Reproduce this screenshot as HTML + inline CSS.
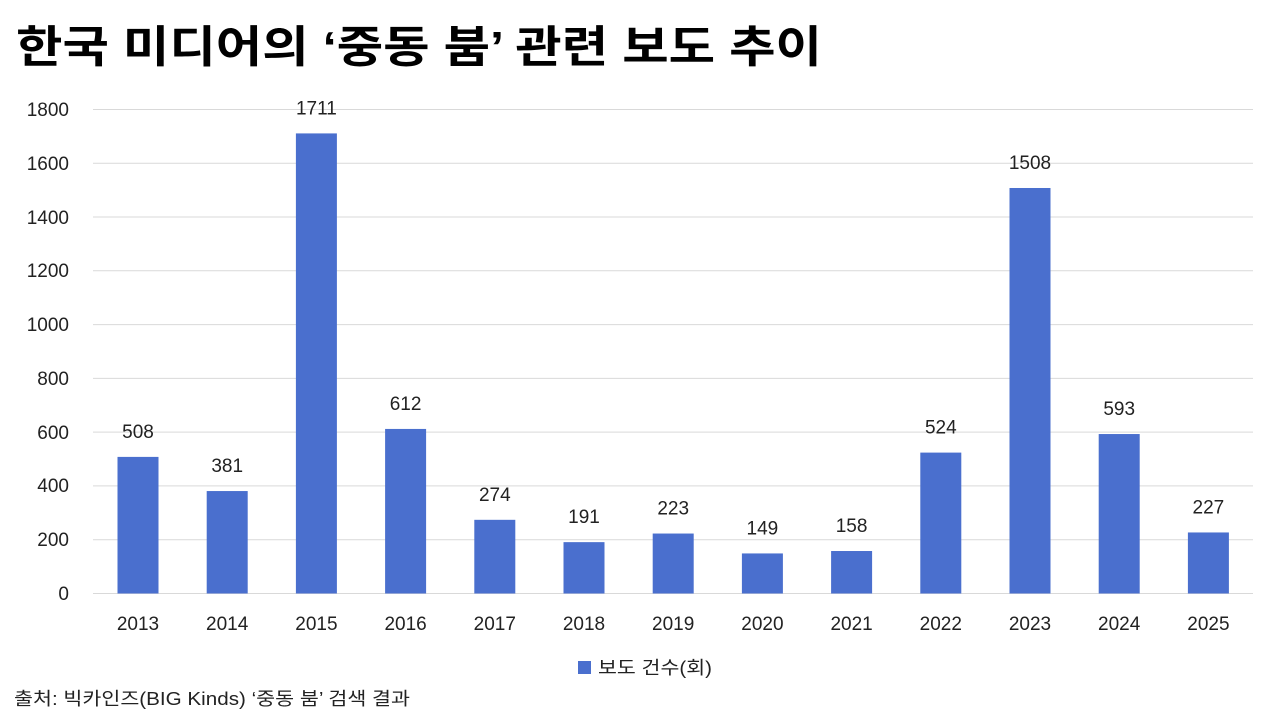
<!DOCTYPE html>
<html><head><meta charset="utf-8"><style>
body{margin:0;background:#fff;width:1280px;height:720px;overflow:hidden;font-family:"Liberation Sans","Noto Sans CJK KR",sans-serif;}
</style></head><body>
<svg width="1280" height="720" xmlns="http://www.w3.org/2000/svg" font-family="Liberation Sans, Noto Sans CJK KR, sans-serif">
<text x="16" y="62" font-size="44" font-weight="bold" fill="#000" textLength="806" lengthAdjust="spacingAndGlyphs">한국 미디어의 ‘중동 붐’ 관련 보도 추이</text>
<g stroke="#d9d9d9" stroke-width="1">
<line x1="93" x2="1253" y1="109.5" y2="109.5"/><line x1="93" x2="1253" y1="163.3" y2="163.3"/>
<line x1="93" x2="1253" y1="217" y2="217"/><line x1="93" x2="1253" y1="270.8" y2="270.8"/>
<line x1="93" x2="1253" y1="324.6" y2="324.6"/><line x1="93" x2="1253" y1="378.4" y2="378.4"/>
<line x1="93" x2="1253" y1="432.1" y2="432.1"/><line x1="93" x2="1253" y1="485.9" y2="485.9"/>
<line x1="93" x2="1253" y1="539.7" y2="539.7"/><line x1="93" x2="1253" y1="593.5" y2="593.5"/>
</g>
<g font-size="19" fill="#222" text-anchor="end">
<text x="69" y="116">1800</text><text x="69" y="170">1600</text><text x="69" y="224">1400</text>
<text x="69" y="277">1200</text><text x="69" y="331">1000</text><text x="69" y="385">800</text>
<text x="69" y="439">600</text><text x="69" y="492">400</text><text x="69" y="546">200</text><text x="69" y="600">0</text>
</g>
<g fill="#4a6fce" id="bars"></g>
<g id="labels" font-size="19" fill="#222" text-anchor="middle"></g>
<rect x="578" y="661" width="13" height="13" fill="#4a6fce"/>
<text x="598" y="674" font-size="18" fill="#222" textLength="114" lengthAdjust="spacingAndGlyphs">보도 건수(회)</text>
<text x="14" y="705" font-size="18" fill="#222" textLength="396" lengthAdjust="spacingAndGlyphs">출처: 빅카인즈(BIG Kinds) ‘중동 붐’ 검색 결과</text>
</svg>
<script>
var d=[508,381,1711,612,274,191,223,149,158,524,1508,593,227],ns="http://www.w3.org/2000/svg";
var b=document.getElementById('bars'),l=document.getElementById('labels');
d.forEach(function(v,i){var cx=138+i*89.2,y=593.5-v*0.2689;
var r=document.createElementNS(ns,'rect');r.setAttribute('x',cx-20.5);r.setAttribute('y',y);r.setAttribute('width',41);r.setAttribute('height',593.5-y);b.appendChild(r);
var t=document.createElementNS(ns,'text');t.setAttribute('x',cx);t.setAttribute('y',y-19);t.textContent=v;l.appendChild(t);
var t2=document.createElementNS(ns,'text');t2.setAttribute('x',cx);t2.setAttribute('y',630);t2.textContent=2013+i;l.appendChild(t2);});
</script>
</body></html>
